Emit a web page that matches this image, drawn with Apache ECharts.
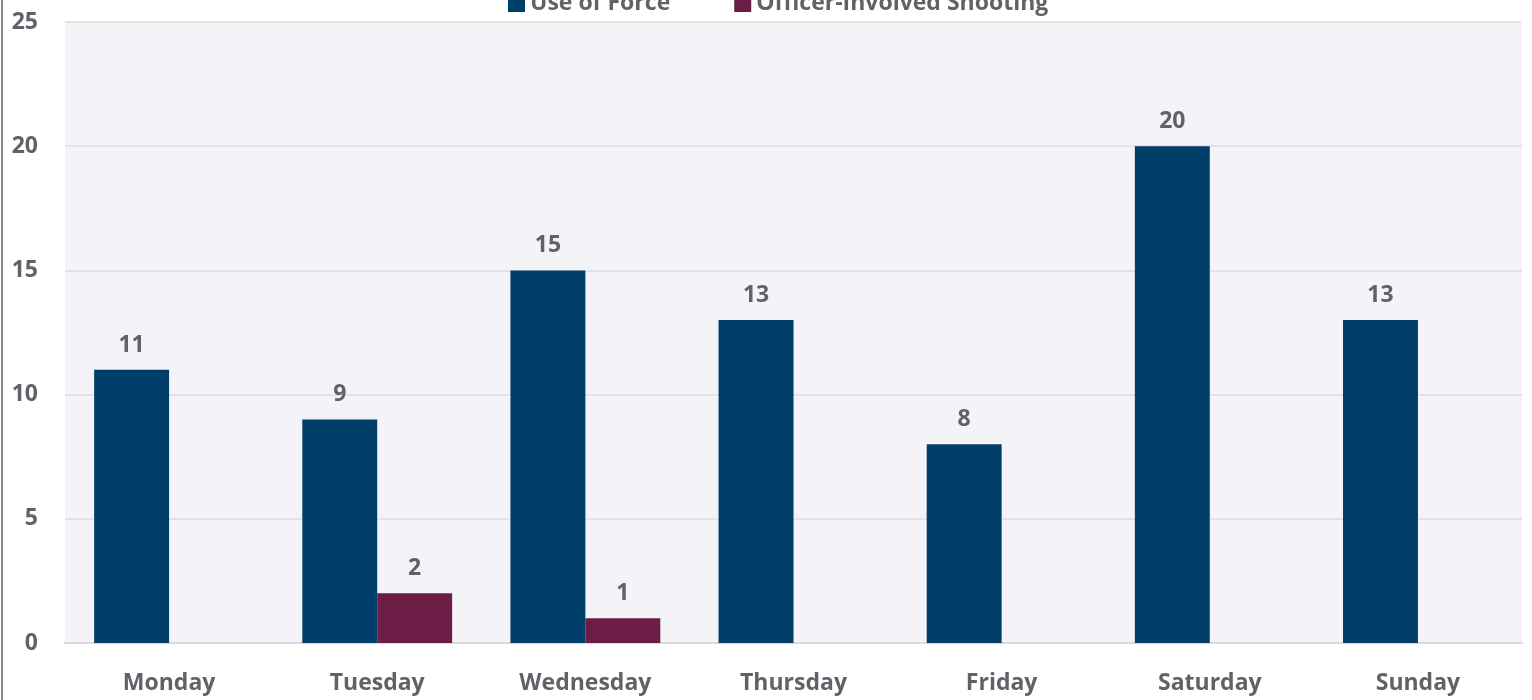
<!DOCTYPE html>
<html>
<head>
<meta charset="utf-8">
<script src="https://cdn.jsdelivr.net/npm/echarts@6/dist/echarts.min.js"></script>
<style>html,body{margin:0;padding:0;background:#fff;}#c{width:1532px;height:700px;}</style>
</head>
<body>
<div id="c"></div>
<script>
const categories = ['Monday','Tuesday','Wednesday','Thursday','Friday','Saturday','Sunday'];
const useOfForce = [11, 9, 15, 13, 8, 20, 13];
const officerShooting = [null, 2, 1, null, null, null, null];
const yTicks = [0, 5, 10, 15, 20, 25];

const FS = 23;
const chart = echarts.init(document.getElementById('c'));
const labelStyle = {show: true, position: 'top', distance: 13, color: '#5f6368', fontSize: FS, fontWeight: 'bold', fontFamily: 'Open Sans'};
chart.setOption({
  animation: false,
  textStyle: {fontFamily: 'Open Sans'},
  graphic: [{type: 'rect', shape: {x: 1, y: 0, width: 2, height: 700}, style: {fill: '#8a8a8a'}}],
  legend: {
    top: -13, left: 503, itemWidth: 17, itemHeight: 17, itemGap: 64,
    icon: 'rect',
    textStyle: {fontSize: FS, fontWeight: 'bold', color: '#5f6368', fontFamily: 'Open Sans'}
  },
  grid: {left: 65, right: 10, top: 22, bottom: 57, show: true, backgroundColor: '#f3f3f8', borderWidth: 0},
  xAxis: {
    type: 'category', data: categories,
    axisLine: {lineStyle: {color: '#d9d9de', width: 2}},
    axisTick: {show: false},
    axisLabel: {color: '#5f6368', fontSize: FS, fontWeight: 'bold', margin: 29, fontFamily: 'Open Sans'}
  },
  yAxis: {
    type: 'value', min: yTicks[0], max: yTicks[yTicks.length - 1], interval: 5,
    axisLine: {show: false}, axisTick: {show: false},
    splitLine: {lineStyle: {color: '#dcdce2', width: 1.5}},
    axisLabel: {color: '#5f6368', fontSize: FS, fontWeight: 'bold', margin: 27, fontFamily: 'Open Sans'}
  },
  series: [
    {name: 'Use of Force', type: 'bar', data: useOfForce, barGap: '0%', barCategoryGap: '28%',
     itemStyle: {color: '#003f69'}, label: labelStyle},
    {name: 'Officer-Involved Shooting', type: 'bar', data: officerShooting,
     itemStyle: {color: '#6b1d45'}, label: labelStyle}
  ]
});
</script>
</body>
</html>
